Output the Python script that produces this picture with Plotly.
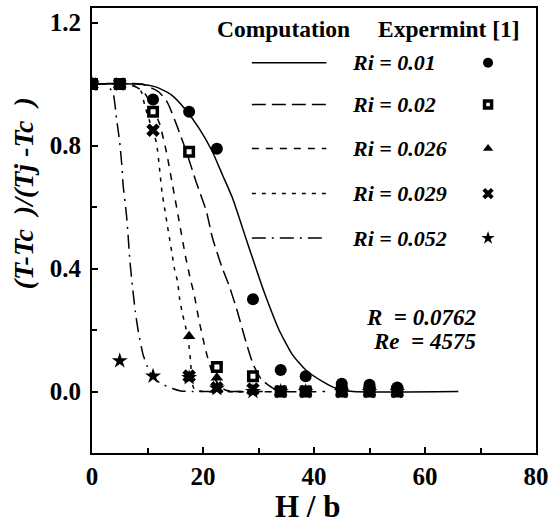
import plotly.graph_objects as go

# ---------------- data ----------------
ri_labels = ["Ri = 0.01", "Ri = 0.02", "Ri = 0.026", "Ri = 0.029", "Ri = 0.052"]

# computation curves
c001_x = [0, 8, 11.6, 14.3, 16.9, 19.3, 21.7, 23.5, 25.3, 27.7, 29.0, 30.3, 31.6, 33.7, 36.1, 38.5, 41.5, 44, 47, 66]
c001_y = [1.0, 1.0, 0.99, 0.965, 0.916, 0.856, 0.78, 0.705, 0.63, 0.50, 0.43, 0.36, 0.295, 0.20, 0.12, 0.07, 0.033, 0.01, 0.0, 0.0]

c002_x = [0, 9, 12, 13.6, 15.4, 17, 18.8, 20.6, 21.7, 23.5, 24.6, 26.2, 27.6, 29, 30.5, 32.5, 35, 42]
c002_y = [1.0, 1.0, 0.975, 0.94, 0.86, 0.78, 0.68, 0.587, 0.5, 0.40, 0.35, 0.26, 0.17, 0.09, 0.04, 0.012, 0.0, 0.0]

c0026_x = [0, 7, 9.5, 11, 12.2, 13.4, 14.5, 15.7, 16.9, 17.8, 18.4, 19.3, 20.5, 21.5, 22.5, 24, 26, 36]
c0026_y = [1.0, 1.0, 0.97, 0.92, 0.87, 0.78, 0.673, 0.554, 0.435, 0.36, 0.317, 0.23, 0.133, 0.07, 0.03, 0.005, 0.0, 0.0]

c0029_x = [0, 6, 8, 8.9, 9.5, 10.4, 11.6, 12.2, 12.6, 13.05, 13.5, 13.95, 14.4, 14.85, 15.45, 15.75, 16.3, 16.9, 17.5, 17.8, 18.0, 18.5, 20, 32]
c0029_y = [1.0, 1.0, 0.99, 0.975, 0.93, 0.878, 0.81, 0.72, 0.65, 0.6, 0.549, 0.5, 0.45, 0.40, 0.355, 0.306, 0.252, 0.208, 0.144, 0.09, 0.03, 0.005, 0.0, 0.0]

c0052_x = [0, 2.5, 3.8, 4.4, 5.0, 5.4, 5.6, 6.2, 6.5, 6.8, 7.3, 7.8, 8.3, 9.2, 10, 11, 12.5, 14.5, 16, 18, 30]
c0052_y = [1.0, 1.0, 0.97, 0.89, 0.81, 0.73, 0.673, 0.576, 0.51, 0.43, 0.34, 0.26, 0.2, 0.12, 0.08, 0.046, 0.025, 0.01, 0.002, 0.0, 0.0]

# experiment [1]
e001_x = [0, 5, 11, 17.5, 22.5, 29, 34, 38.5, 45, 50, 55]
e001_y = [1.0, 1.0, 0.95, 0.91, 0.79, 0.30, 0.07, 0.05, 0.025, 0.022, 0.013]

e002_x = [0, 5, 11, 17.5, 22.5, 29, 34, 38.5, 45, 50, 55]
e002_y = [1.0, 1.0, 0.91, 0.78, 0.08, 0.05, 0.0, 0.0, 0.0, 0.0, 0.0]

e0026_x = [0, 5, 17.5, 22.5, 29, 34, 38.5, 45, 50, 55]
e0026_y = [1.0, 1.0, 0.18, 0.045, 0.0, 0.0, 0.0, 0.0, 0.0, 0.0]

e0029_x = [0, 5, 11, 17.5, 22.5, 29, 34, 38.5, 45, 50, 55]
e0029_y = [1.0, 1.0, 0.85, 0.05, 0.012, 0.008, 0.0, 0.0, 0.0, 0.0, 0.0]

e0052_x = [0, 5, 11, 17.5, 22.5, 29, 34, 38.5, 45, 50, 55]
e0052_y = [1.0, 0.10, 0.05, 0.045, 0.01, 0.0, 0.0, 0.0, 0.0, 0.0, 0.0]

x_ticks = [0, 20, 40, 60, 80]
y_ticks = [0.0, 0.4, 0.8, 1.2]
y_ticktext = ["0.0", "0.4", "0.8", "1.2"]

# ---------------- styles ----------------
SERIF = "Liberation Serif"
dashes = ["solid", "14px,6px", "7px,7px", "4px,6px", "14px,6px,2px,6px"]
symbols = ["circle", "square", "triangle-up", "x", "star"]
mcolors = ["black", "white", "black", "black", "black"]
mline = [0, 3.5, 0, 0, 0]
msize = [12, 8.5, 11, 12, 12]
lsize = [10, 7, 9, 10, 10]

curves = [(c001_x, c001_y), (c002_x, c002_y), (c0026_x, c0026_y), (c0029_x, c0029_y), (c0052_x, c0052_y)]
exps = [(e001_x, e001_y), (e002_x, e002_y), (e0026_x, e0026_y), (e0029_x, e0029_y), (e0052_x, e0052_y)]

fig = go.Figure()
for (cx, cy), d in zip(curves, dashes):
    fig.add_trace(go.Scatter(x=cx, y=cy, mode="lines", line=dict(color="black", width=1.5, dash=d,
                             shape="spline", smoothing=0.5), showlegend=False, hoverinfo="skip"))
for (ex, ey), s, mc, ml, ms in zip(exps, symbols, mcolors, mline, msize):
    fig.add_trace(go.Scatter(x=ex, y=ey, mode="markers",
                             marker=dict(symbol=s, size=ms, color=mc, line=dict(color="black", width=ml)),
                             showlegend=False))

# ---------------- custom legend ----------------
leg_rows = [0.877, 0.783, 0.684, 0.583, 0.483]   # paper y of legend rows
leg_x0, leg_x1, leg_tx, leg_mx = 0.360, 0.528, 0.580, 0.892
for i, yy in enumerate(leg_rows):
    fig.add_shape(type="line", xref="paper", yref="paper", x0=leg_x0, x1=leg_x1, y0=yy, y1=yy,
                  line=dict(color="black", width=1.5, dash=dashes[i]))
    fig.add_annotation(xref="paper", yref="paper", x=leg_tx, y=yy, xanchor="left", yanchor="middle",
                       text="<b><i>%s</i></b>" % ri_labels[i], showarrow=False,
                       font=dict(family=SERIF, size=22, color="black"))
# legend markers: drawn on a hidden overlay axis in paper-like units
for i, yy in enumerate(leg_rows):
    fig.add_trace(go.Scatter(x=[leg_mx], y=[yy], xaxis="x2", yaxis="y2", mode="markers",
                             marker=dict(symbol=symbols[i], size=lsize[i], color=mcolors[i],
                                         line=dict(color="black", width=mline[i])),
                             showlegend=False, hoverinfo="skip"))

fig.add_annotation(xref="paper", yref="paper", x=0.278, y=0.953, xanchor="left", yanchor="middle",
                   text="<b>Computation</b>", showarrow=False, font=dict(family=SERIF, size=23.5, color="black"))
fig.add_annotation(xref="paper", yref="paper", x=0.640, y=0.953, xanchor="left", yanchor="middle",
                   text="<b>Expermint [1]</b>", showarrow=False, font=dict(family=SERIF, size=23.5, color="black"))

fig.add_annotation(xref="paper", yref="paper", x=0.612, y=0.3045, xanchor="left", yanchor="middle",
                   text="<b><i>R  = 0.0762</i></b>", showarrow=False, font=dict(family=SERIF, size=23, color="black"))
fig.add_annotation(xref="paper", yref="paper", x=0.628, y=0.250, xanchor="left", yanchor="middle",
                   text="<b><i>Re  = 4575</i></b>", showarrow=False, font=dict(family=SERIF, size=23, color="black"))

# axis titles
fig.add_annotation(xref="paper", yref="paper", x=0.486, y=-0.121, xanchor="center", yanchor="middle",
                   text="<b>H / b</b>", showarrow=False, font=dict(family=SERIF, size=31, color="black"))
fig.add_annotation(xref="paper", yref="paper", x=-0.155, y=0.584, xanchor="center", yanchor="middle",
                   textangle=-90, text="<b><i>(T-Tc  )/(Tj -Tc  )</i></b>", showarrow=False,
                   font=dict(family=SERIF, size=28, color="black"))

axis_common = dict(showgrid=False, zeroline=False, showline=True, linecolor="black", linewidth=2,
                   mirror=True, ticks="inside", ticklen=6, tickwidth=1.5, tickcolor="black",
                   tickfont=dict(family=SERIF, size=25, color="black", weight="bold"))
fig.update_layout(
    width=555, height=524, margin=dict(l=92, r=17, t=6, b=71),
    paper_bgcolor="white", plot_bgcolor="white",
    xaxis=dict(range=[0, 80], tickvals=x_ticks,
               minor=dict(dtick=10, ticks="inside", ticklen=5, tickcolor="black", tickwidth=1.5),
               **axis_common),
    yaxis=dict(range=[-0.2, 1.2475], tickvals=y_ticks, ticktext=y_ticktext, ticklabelstandoff=4,
               minor=dict(dtick=0.2, ticks="inside", ticklen=5, tickcolor="black", tickwidth=1.5),
               **axis_common),
    xaxis2=dict(range=[0, 1], overlaying="x", visible=False),
    yaxis2=dict(range=[0, 1], overlaying="y", visible=False),
    showlegend=False,
)

fig.write_html("out.html")
